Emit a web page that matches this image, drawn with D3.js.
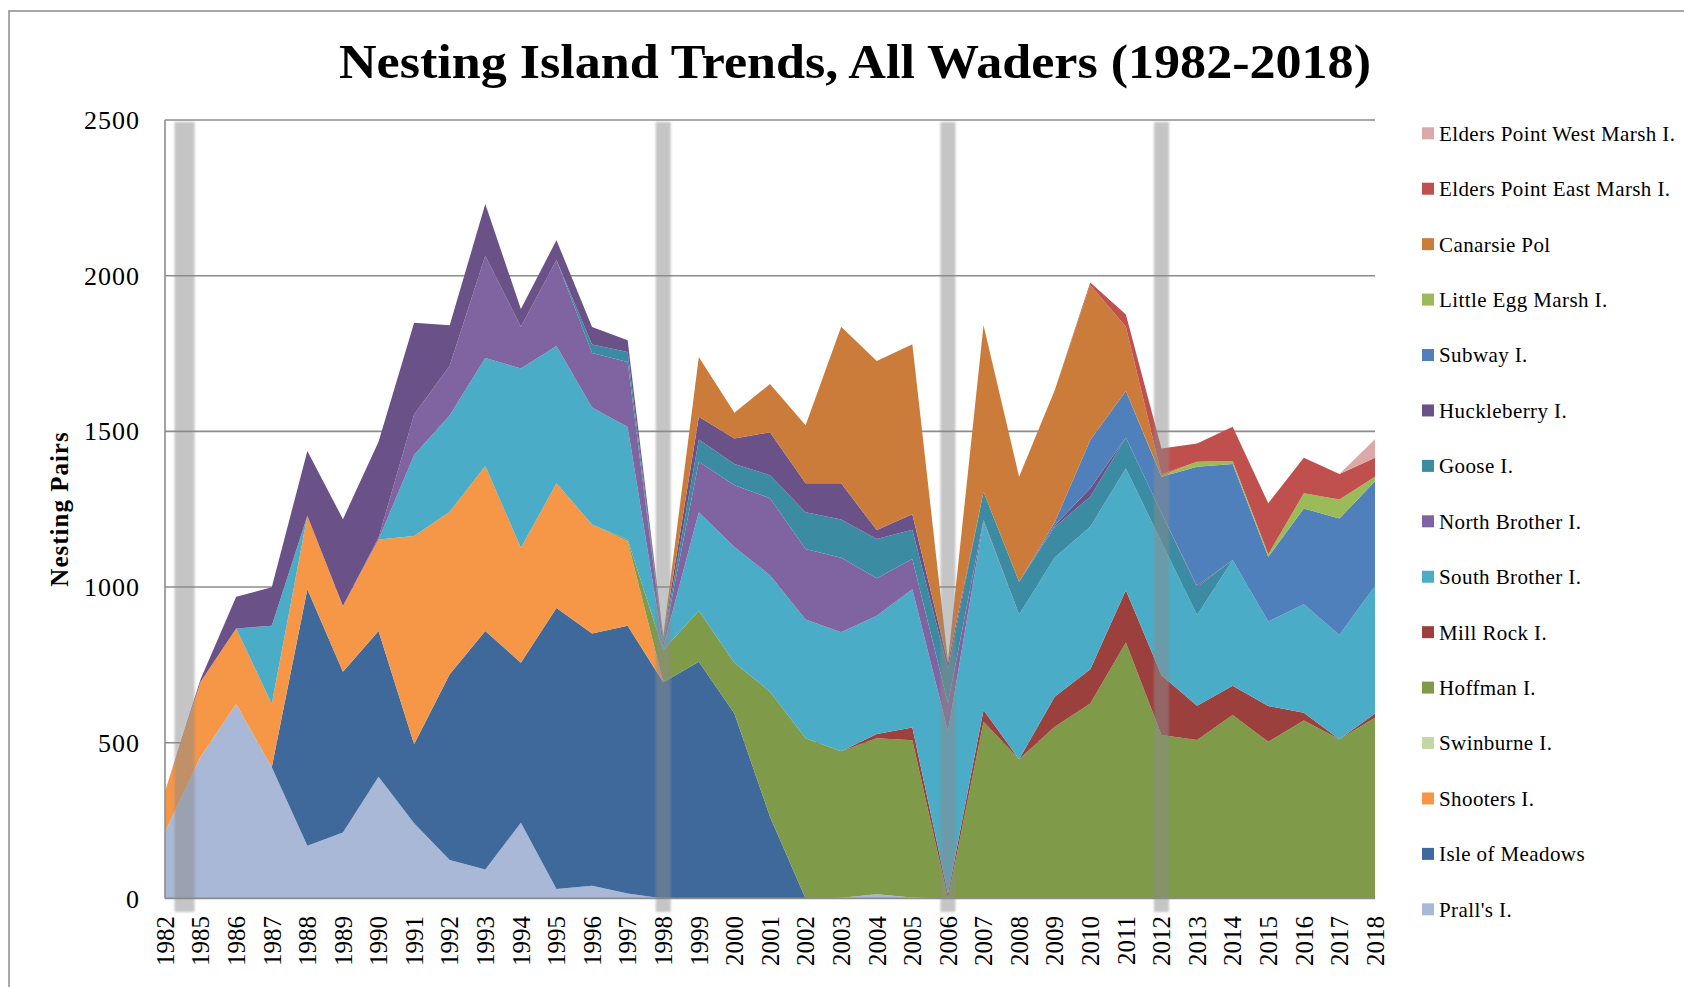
<!DOCTYPE html>
<html><head><meta charset="utf-8">
<script src="https://cdn.jsdelivr.net/npm/d3@7"></script>
<style>
body{margin:0;background:#fff}
svg{display:block}
text{font-family:"Liberation Serif","Times New Roman",serif;fill:#000}
</style>
</head><body>
<svg id="chart" width="1684" height="987"></svg>
<script>
// ---------- DATA ----------
const years = ["1982","1985","1986","1987","1988","1989","1990","1991","1992","1993","1994","1995","1996","1997","1998","1999","2000","2001","2002","2003","2004","2005","2006","2007","2008","2009","2010","2011","2012","2013","2014","2015","2016","2017","2018"];

const pralls        = [214,455,624,421,169,212,391,241,123,93,243,30,41,16,0,0,0,0,0,2,13,3,0,0,0,0,0,0,0,0,0,0,0,0,0];
const isleOfMeadows = [0,0,0,0,824,516,468,254,597,766,514,903,810,860,694,760,594,262,0,0,0,0,0,0,0,0,0,0,0,0,0,0,0,0,0];
const shooters      = [129,241,243,203,236,211,294,669,522,530,369,400,350,272,0,0,0,0,0,0,0,0,0,0,0,0,0,0,0,0,0,0,0,0,0];
const swinburne     = [0,0,0,0,0,0,0,0,0,0,0,0,0,0,0,0,0,0,0,0,0,0,0,0,0,0,0,0,0,0,0,0,0,0,0];
const hoffman       = [0,0,0,0,0,0,0,0,0,0,0,0,0,5,104,164,163,402,514,471,501,505,0,567,447,551,626,822,525,509,589,503,571,511,580];
const millRock      = [0,0,0,0,0,0,0,0,0,0,0,0,0,0,0,0,0,0,0,0,14,41,15,38,0,97,110,168,192,110,94,115,25,0,14];
const southBrother  = [0,0,0,252,0,0,0,260,310,347,576,441,376,361,10,316,372,374,382,382,380,444,521,605,465,447,458,391,428,291,404,271,349,335,409];
const northBrother  = [0,0,0,0,0,0,5,130,159,328,134,276,175,209,15,162,198,247,226,239,120,97,91,5,0,0,0,0,0,0,0,0,0,0,0];
const goose         = [0,0,0,0,0,0,0,0,0,0,0,0,27,32,5,72,68,74,118,123,126,94,110,91,105,98,96,99,92,89,0,0,0,0,0];
const huckleberry   = [0,8,102,123,208,279,309,295,130,166,57,64,56,38,10,73,82,138,93,116,29,50,20,0,0,5,27,0,0,5,0,0,0,0,0];
const subway        = [0,0,0,0,0,0,0,0,0,0,0,0,0,0,0,0,0,0,0,0,0,0,0,0,0,10,155,150,117,382,308,208,307,374,337];
const littleEgg     = [0,0,0,0,0,0,0,0,0,0,0,0,0,0,0,0,0,0,0,0,0,0,0,0,0,0,0,0,3,16,10,8,49,61,14];
const canarsie      = [0,0,0,0,0,0,0,0,0,0,0,0,0,0,5,192,83,155,187,503,543,546,5,535,337,424,498,206,5,0,0,0,0,0,0];
const eldersEast    = [0,0,0,0,0,0,0,0,0,0,0,0,0,0,0,0,0,0,0,0,0,0,0,0,0,0,8,39,83,59,110,164,114,82,61];
const eldersWest    = [0,0,0,0,0,0,0,0,0,0,0,0,0,0,0,0,0,0,0,0,0,0,0,0,0,0,0,0,0,0,0,0,0,0,60];

// stacking order, bottom to top
const seriesNames = ["Prall's I.","Isle of Meadows","Shooters I.","Swinburne I.","Hoffman I.","Mill Rock I.","South Brother I.","North Brother I.","Goose I.","Huckleberry I.","Subway I.","Little Egg Marsh I.","Canarsie Pol","Elders Point East Marsh I.","Elders Point West Marsh I."];
const seriesValues = [pralls,isleOfMeadows,shooters,swinburne,hoffman,millRock,southBrother,northBrother,goose,huckleberry,subway,littleEgg,canarsie,eldersEast,eldersWest];
const seriesColors = ["#a9b8d6","#3f699b","#f69647","#c4d6a6","#7f9a48","#9c403e","#4aacc6","#8064a1","#3b8ba2","#6a5187","#4f80bc","#9bbb59","#cc7c3a","#c0504e","#daa9a8"];

const yTicks = [0,500,1000,1500,2000,2500];
// survey-break markers, in category-index units
const breakMarks = [0.55,14,22,28];

// ---------- CHART ----------
const svg = d3.select("#chart");
const L = 165, R = 1375, T = 120, B = 898.4;

const x = d3.scalePoint().domain(years).range([L, R]);
const xi = d3.scaleLinear().domain([0, years.length - 1]).range([L, R]);
const y = d3.scaleLinear().domain([0, 2500]).range([B, T]);

// outer border
svg.append("rect").attr("x",9).attr("y",11).attr("width",1720).attr("height",1020)
  .attr("fill","none").attr("stroke","#8a8a8a").attr("stroke-width",1.5);

// title
svg.append("text").attr("x",855).attr("y",78).attr("text-anchor","middle")
  .attr("font-size",48).attr("font-weight","bold")
  .attr("textLength",1032).attr("lengthAdjust","spacingAndGlyphs")
  .text("Nesting Island Trends, All Waders (1982-2018)");

// gridlines
svg.append("g").selectAll("line").data(yTicks.filter(d=>d>0)).join("line")
  .attr("x1",L).attr("x2",R).attr("y1",d=>y(d)).attr("y2",d=>y(d))
  .attr("stroke","#8c8c8c").attr("stroke-width",1.6);

// stacked areas
const table = years.map((yr,i)=>{
  const row = {year: yr};
  seriesNames.forEach((n,k)=>row[n]=seriesValues[k][i]);
  return row;
});
const stacked = d3.stack().keys(seriesNames)(table);
const area = d3.area()
  .x(d=>x(d.data.year))
  .y0(d=>y(d[0]))
  .y1(d=>y(d[1]));
svg.append("g").selectAll("path").data(stacked).join("path")
  .attr("d",area)
  .attr("fill",(d,i)=>seriesColors[i]);

// axes lines
svg.append("line").attr("x1",L).attr("x2",L).attr("y1",T).attr("y2",B)
  .attr("stroke","#8c8c8c").attr("stroke-width",1.6);
svg.append("line").attr("x1",L).attr("x2",R).attr("y1",B).attr("y2",B)
  .attr("stroke","#8c8c8c").attr("stroke-width",1.6);

// break markers
const defs = svg.append("defs");
defs.append("filter").attr("id","soft").attr("x","-50%").attr("width","200%")
  .append("feGaussianBlur").attr("stdDeviation",1.2);
svg.append("g").selectAll("rect").data(breakMarks).join("rect")
  .attr("x",(d,i)=>xi(d)-(i===0?10:7.5))
  .attr("width",(d,i)=>i===0?20:15)
  .attr("y",T+2).attr("height",912-(T+2))
  .attr("fill","rgb(140,140,140)").attr("fill-opacity",0.5)
  .attr("filter","url(#soft)");

// y tick labels
svg.append("g").selectAll("text").data(yTicks).join("text")
  .attr("x",140).attr("y",d=>y(d)).attr("dy","0.35em")
  .attr("text-anchor","end").attr("font-size",26).attr("letter-spacing",1)
  .text(d=>d);

// x tick labels
svg.append("g").selectAll("text").data(years).join("text")
  .attr("transform",d=>`translate(${x(d)},916) rotate(-90)`)
  .attr("dy","0.35em").attr("text-anchor","end").attr("font-size",25)
  .text(d=>d);

// y axis title
svg.append("text").attr("transform","translate(59,509) rotate(-90)")
  .attr("dy","0.35em").attr("text-anchor","middle")
  .attr("font-size",25).attr("font-weight","bold").attr("letter-spacing",1)
  .text("Nesting Pairs");

// legend (top = last stacked series)
const legendItems = seriesNames.map((n,i)=>({name:n,color:seriesColors[i]})).reverse();
const lg = svg.append("g").selectAll("g").data(legendItems).join("g")
  .attr("transform",(d,i)=>`translate(1422,${133.3 + i*55.43})`);
lg.append("rect").attr("x",0).attr("y",-6).attr("width",12).attr("height",12)
  .attr("fill",d=>d.color);
lg.append("text").attr("x",17).attr("dy","0.35em").attr("font-size",21).attr("letter-spacing",0.4)
  .text(d=>d.name);
</script>
</body></html>
